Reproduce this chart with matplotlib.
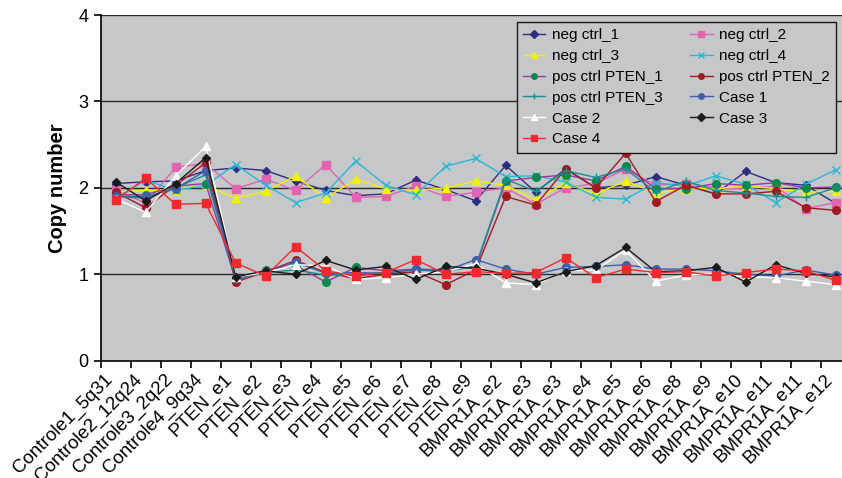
import matplotlib
matplotlib.use("Agg")
import matplotlib.pyplot as plt
import matplotlib.transforms as mtransforms
from matplotlib.lines import Line2D

plt.rcParams['font.family'] = ['Liberation Sans', 'DejaVu Sans']

# --- dados ---
categorias = ["Controle1_5q31", "Controle2_12q24", "Controle3_2q22", "Controle4_9q34",
              "PTEN_e1", "PTEN_e2", "PTEN_e3", "PTEN_e4", "PTEN_e5", "PTEN_e6",
              "PTEN_e7", "PTEN_e8", "PTEN_e9", "BMPR1A_e2", "BMPR1A_e3", "BMPR1A_e3",
              "BMPR1A_e4", "BMPR1A_e5", "BMPR1A_e6", "BMPR1A_e8", "BMPR1A_e9",
              "BMPR1A_e10", "BMPR1A_e11", "BMPR1A_e11", "BMPR1A_e12"]

neg_ctrl_1 = [2.05, 2.07, 2.08, 2.20, 2.23, 2.20, 2.08, 1.97, 1.91, 1.93, 2.09, 1.98, 1.85,
              2.26, 1.95, 2.22, 2.00, 2.03, 2.13, 2.03, 1.93, 2.19, 2.06, 2.03, 1.82]
neg_ctrl_2 = [1.98, 1.82, 2.24, 2.28, 1.99, 2.10, 1.97, 2.27, 1.89, 1.90, 2.02, 1.90, 1.95,
              2.00, 1.81, 2.00, 2.05, 2.22, 2.03, 2.05, 2.00, 1.99, 2.02, 1.76, 1.83]
neg_ctrl_3 = [1.95, 1.97, 1.98, 2.03, 1.88, 1.96, 2.14, 1.88, 2.10, 1.99, 1.97, 2.00, 2.08,
              2.03, 1.86, 2.06, 1.93, 2.08, 1.94, 1.99, 1.99, 2.02, 1.99, 1.95, 1.96]
neg_ctrl_4 = [1.88, 2.09, 1.97, 2.03, 2.27, 2.03, 1.83, 1.94, 2.31, 2.03, 1.92, 2.25, 2.34,
              2.13, 2.14, 2.07, 1.89, 1.87, 2.06, 2.02, 2.14, 2.04, 1.83, 2.04, 2.21]
pos_ctrl_1 = [1.92, 1.92, 2.02, 2.05, 0.93, 1.05, 1.10, 0.91, 1.08, 1.04, 1.06, 1.05, 1.08,
              2.08, 2.12, 2.15, 2.08, 2.25, 1.99, 1.99, 2.05, 2.03, 2.06, 2.00, 2.01]
pos_ctrl_2 = [1.95, 1.77, 2.03, 2.29, 0.91, 1.03, 1.16, 1.02, 0.95, 1.00, 1.03, 0.88, 1.05,
              1.90, 1.80, 2.22, 2.00, 2.40, 1.84, 2.03, 1.93, 1.93, 1.96, 1.77, 1.74]
pos_ctrl_3 = [1.90, 1.88, 2.00, 2.15, 0.95, 1.02, 1.05, 0.99, 1.00, 1.02, 1.05, 1.03, 1.10,
              2.10, 1.96, 2.20, 2.12, 2.22, 1.95, 2.08, 1.97, 1.94, 1.90, 1.89, 2.00]
case_1 = [1.90, 1.90, 1.99, 2.20, 0.96, 1.03, 1.14, 1.01, 1.02, 1.01, 1.06, 1.04, 1.17,
          1.06, 1.00, 1.08, 1.09, 1.11, 1.06, 1.06, 1.04, 1.00, 0.98, 1.05, 0.99]
case_2 = [1.87, 1.72, 2.14, 2.48, 0.97, 1.02, 1.11, 1.10, 0.94, 0.96, 1.00, 1.03, 1.12,
          0.90, 0.88, 1.04, 1.05, 1.28, 0.92, 0.99, 1.01, 0.97, 0.96, 0.92, 0.88]
case_3 = [2.07, 1.85, 2.05, 2.35, 0.97, 1.04, 1.00, 1.16, 1.05, 1.09, 0.94, 1.09, 1.07,
          1.00, 0.90, 1.03, 1.10, 1.31, 1.03, 1.04, 1.08, 0.91, 1.11, 1.01, 0.97]
case_4 = [1.86, 2.11, 1.81, 1.82, 1.13, 0.98, 1.32, 1.04, 0.98, 1.02, 1.17, 1.00, 1.03,
          1.01, 1.02, 1.19, 0.96, 1.06, 1.02, 1.03, 0.98, 1.02, 1.06, 1.04, 0.93]

# (nome, valores, cor da linha, marcador, cor do marcador)
series = [
    ("neg ctrl_1", neg_ctrl_1, "#2e2d80", "D", "#2e2d80"),
    ("neg ctrl_2", neg_ctrl_2, "#e064b0", "s", "#e064b0"),
    ("neg ctrl_3", neg_ctrl_3, "#f2f200", "^", "#f2f200"),
    ("neg ctrl_4", neg_ctrl_4, "#27b8d8", "x", "#27b8d8"),
    ("pos ctrl PTEN_1", pos_ctrl_1, "#9b3a9e", "o", "#0a8a4a"),
    ("pos ctrl PTEN_2", pos_ctrl_2, "#a01c22", "o", "#a01c22"),
    ("pos ctrl PTEN_3", pos_ctrl_3, "#1a9090", "+", "#1a9090"),
    ("Case 1", case_1, "#3f5fae", "o", "#3f5fae"),
    ("Case 2", case_2, "#ffffff", "^", "#ffffff"),
    ("Case 3", case_3, "#1a1a1a", "D", "#1a1a1a"),
    ("Case 4", case_4, "#ee2a2e", "s", "#ee2a2e"),
]

fig = plt.figure(figsize=(8.42, 4.78), dpi=100)
ax = fig.add_axes([100.7 / 842, 1 - 360.7 / 478, 750 / 842, 345.7 / 478])
ax.set_facecolor("#c6c7c9")

x = list(range(len(categorias)))
handles = {}
for nome, vals, cor, mk, mcor in series:
    ms = 4.5 if mk == "D" else 5.5
    h, = ax.plot(x, vals, color=cor, linewidth=1.0, marker=mk, markersize=ms,
                 markerfacecolor=mcor, markeredgecolor=mcor, markeredgewidth=1.0,
                 label=nome)
    handles[nome] = h

# grade horizontal
for yv in [1, 2, 3, 4]:
    ax.axhline(yv, color="#2a2a2a", linewidth=1.0, zorder=0.5)

ax.set_xlim(-0.5, len(categorias) - 0.5)
ax.set_ylim(0, 4)
ax.set_yticks([0, 1, 2, 3, 4])
ax.set_yticklabels(["0", "1", "2", "3", "4"], fontsize=13)
ax.set_xticks([i - 0.5 for i in range(len(categorias) + 1)])
ax.set_xticklabels([])
ax.set_xticks(x, minor=True)
ax.set_xticklabels(categorias, minor=True, rotation=45, ha="right",
                   rotation_mode="anchor", fontsize=13.5)
ax.tick_params(axis="x", which="minor", length=0, pad=6)
ax.tick_params(axis="x", which="major", length=5, width=1.2, direction="out")
ax.tick_params(axis="y", length=5, width=1.2, direction="out", pad=4)

# desloca os rotulos do eixo x um pouco para a esquerda
desloc = mtransforms.ScaledTranslation(-12 / 100, -2 / 100, fig.dpi_scale_trans)
for lab in ax.get_xticklabels(minor=True):
    lab.set_transform(lab.get_transform() + desloc)

for s in ["top", "right"]:
    ax.spines[s].set_visible(False)
ax.spines["left"].set_linewidth(1.2)
ax.spines["bottom"].set_linewidth(1.2)

ax.set_ylabel("Copy number", fontsize=14.5, fontweight="bold", labelpad=8)

# legenda em duas colunas, ordem por linha como no original
ordem = ["neg ctrl_1", "neg ctrl_3", "pos ctrl PTEN_1", "pos ctrl PTEN_3", "Case 2", "Case 4",
         "neg ctrl_2", "neg ctrl_4", "pos ctrl PTEN_2", "Case 1", "Case 3"]
leg_h = []
for nome in ordem:
    h = handles[nome]
    leg_h.append(Line2D([0], [0], color=h.get_color(), linewidth=1.0, marker=h.get_marker(),
                        markersize=4, markerfacecolor=h.get_markerfacecolor(),
                        markeredgecolor=h.get_markeredgecolor()))
leg = fig.legend(leg_h, ordem, ncol=2, loc="upper left",
                 bbox_to_anchor=(517 / 842, 1 - 22 / 478), fontsize=11,
                 frameon=True, fancybox=False, facecolor="#c6c7c9", edgecolor="#1a1a1a",
                 framealpha=1, handlelength=1.45, handletextpad=0.45,
                 labelspacing=0.45, columnspacing=1.8, borderpad=0.4,
                 borderaxespad=0)
leg.get_frame().set_linewidth(1.0)

fig.savefig("out.png", dpi=100)
